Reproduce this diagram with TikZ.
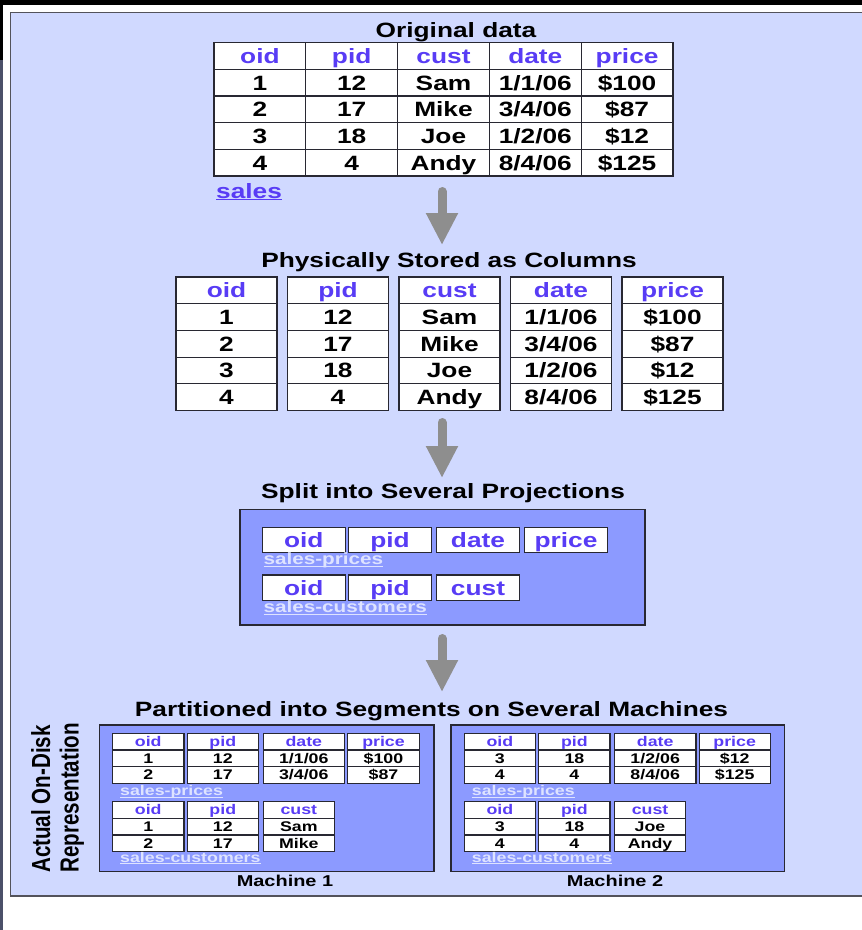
\documentclass[tikz,border=0pt]{standalone}
\usepackage{fontspec}
\usepackage{graphicx}
\setmainfont{Liberation Sans}[FakeStretch=1.27]
\newfontfamily\rotfont{Liberation Sans}
\usetikzlibrary{arrows.meta}

\definecolor{panelfill}{RGB}{208,217,255}
\definecolor{boxfill}{RGB}{140,154,255}
\definecolor{hdrblue}{RGB}{88,60,245}
\definecolor{labelwhite}{RGB}{222,227,255}
\definecolor{arrowgray}{RGB}{142,142,142}
\definecolor{edge}{RGB}{40,40,50}
\definecolor{strip}{RGB}{75,80,105}

% bold text at a given size (in pt)
\newcommand\fsz[1]{\fontsize{#1pt}{#1pt}\selectfont\bfseries}
% text with a rule drawn just under the baseline
\newcommand\ulabel[1]{\setbox0\hbox{#1}\rlap{\rule[-2.3pt]{\wd0}{1.1pt}}\box0}

\tikzset{
  tabfont/.style={font=\fsz{20.7}, text height=15pt, text depth=0pt},
  hcell/.style={draw=edge, line width=1.2pt, fill=white, inner sep=0pt, text=hdrblue, tabfont},
  dcell/.style={draw=edge, line width=1.2pt, fill=white, inner sep=0pt, text=black, tabfont},
  heading/.style={font=\fsz{20.7}, text=black, inner sep=0pt, anchor=base},
  segbox/.style={draw=edge, line width=1.3pt, fill=boxfill},
  projlabel/.style={font=\fsz{16.3}, text=labelwhite, inner sep=0pt, anchor=base west},
  bigarrow/.style={draw=arrowgray, line width=9pt, line cap=round,
    -{Triangle[width=30pt,length=32pt]}},
}

% one column: name, left x, top y, width, row height, header, values
\newcommand\colcells[7]{%
  \node[hcell, minimum width=#4pt, minimum height=#5pt] (#1-0) at ({#2+#4/2},{#3+#5/2}) {#6};
  \foreach \v [count=\i] in {#7}{%
    \node[dcell, minimum width=#4pt, minimum height=#5pt] (#1-\i) at ({#2+#4/2},{#3+#5*(\i+0.5)}) {\v};
  }%
}

\begin{document}
\begin{tikzpicture}[x=1pt,y=-1pt]
\useasboundingbox (0,0) rectangle (862,930);

% frame
\fill[white] (0,0) rectangle (862,930);
\fill[strip] (0,0) rectangle (2.5,930);
\fill[black] (0,0) rectangle (862,5);
\fill[black] (0,0) rectangle (3,60);
\draw[draw=edge!80, line width=1.5pt, fill=panelfill] (10.5,12.5) rectangle (870,896);

% ---------- original table ----------
\node[heading] (title-orig) at (456,37) {Original data};
\colcells{orig-oid}{214}{42.5}{91.8}{26.7}{oid}{1,2,3,4}
\colcells{orig-pid}{305.8}{42.5}{91.8}{26.7}{pid}{12,17,18,4}
\colcells{orig-cust}{397.6}{42.5}{91.8}{26.7}{cust}{Sam,Mike,Joe,Andy}
\colcells{orig-date}{489.4}{42.5}{91.8}{26.7}{date}{1/1/06,3/4/06,1/2/06,8/4/06}
\colcells{orig-price}{581.2}{42.5}{91.8}{26.7}{price}{\$100,\$87,\$12,\$125}
\node[font=\fsz{20.7}, text=hdrblue, inner sep=0pt, anchor=base west] (sales) at (216,198) {\ulabel{sales}};

\coordinate (a1s) at (442,191.5);
\coordinate (a1e) at (442,245);
\draw[bigarrow] (a1s) -- (a1e);

% ---------- column store ----------
\node[heading] (title-cols) at (449,267) {Physically Stored as Columns};
\colcells{col-oid}{176}{277}{101}{26.7}{oid}{1,2,3,4}
\colcells{col-pid}{287.5}{277}{101}{26.7}{pid}{12,17,18,4}
\colcells{col-cust}{399}{277}{101}{26.7}{cust}{Sam,Mike,Joe,Andy}
\colcells{col-date}{510.5}{277}{101}{26.7}{date}{1/1/06,3/4/06,1/2/06,8/4/06}
\colcells{col-price}{622}{277}{101}{26.7}{price}{\$100,\$87,\$12,\$125}

\coordinate (a2s) at (442,422.5);
\coordinate (a2e) at (442,478);
\draw[bigarrow] (a2s) -- (a2e);

% ---------- projections ----------
\node[heading] (title-proj) at (443,498) {Split into Several Projections};
\draw[segbox] (240,509.3) rectangle (645,625);
\node[hcell, minimum width=83pt, minimum height=25.4pt] (p1-oid) at (303.8,540) {oid};
\node[hcell, minimum width=83pt, minimum height=25.4pt] (p1-pid) at (390,540) {pid};
\node[hcell, minimum width=83pt, minimum height=25.4pt] (p1-date) at (478,540) {date};
\node[hcell, minimum width=83pt, minimum height=25.4pt] (p1-price) at (566,540) {price};
\node[projlabel] (p1-name) at (263.3,564.5) {\ulabel{sales-prices}};
\node[hcell, minimum width=83pt, minimum height=25.4pt] (p2-oid) at (303.8,587.7) {oid};
\node[hcell, minimum width=83pt, minimum height=25.4pt] (p2-pid) at (390,587.7) {pid};
\node[hcell, minimum width=83pt, minimum height=25.4pt] (p2-cust) at (478,587.7) {cust};
\node[projlabel] (p2-name) at (263.3,612.5) {\ulabel{sales-customers}};

\coordinate (a3s) at (442,638.5);
\coordinate (a3e) at (442,692);
\draw[bigarrow] (a3s) -- (a3e);

% ---------- segments on machines ----------
\node[heading] (title-seg) at (431.5,716.5) {Partitioned into Segments on Several Machines};

\node[rotate=90, anchor=base west, inner sep=0pt] (disk1) at (50,873)
  {\scalebox{1}[1.27]{\rotfont\fsz{20.6}Actual On-Disk}};
\node[rotate=90, anchor=base west, inner sep=0pt] (disk2) at (78.5,873)
  {\scalebox{1}[1.27]{\rotfont\fsz{20.6}Representation}};

\begin{scope}[tabfont/.style={font=\fsz{14}, text height=10pt, text depth=0pt},
              projlabel/.style={font=\fsz{14}, text=labelwhite, inner sep=0pt, anchor=base west}]
  % machine 1
  \draw[segbox] (99.3,725) rectangle (434,871.7);
  \colcells{m1p-oid}{112.6}{733.3}{71.3}{16.6}{oid}{1,2}
  \colcells{m1p-pid}{187.3}{733.3}{71}{16.6}{pid}{12,17}
  \colcells{m1p-date}{263.3}{733.3}{81}{16.6}{date}{1/1/06,3/4/06}
  \colcells{m1p-price}{347.7}{733.3}{71.6}{16.6}{price}{\$100,\$87}
  \node[projlabel] (m1-pname) at (120,795.5) {\ulabel{sales-prices}};
  \colcells{m1c-oid}{112.6}{801.6}{71.3}{16.7}{oid}{1,2}
  \colcells{m1c-pid}{187.3}{801.6}{71}{16.7}{pid}{12,17}
  \colcells{m1c-cust}{263.3}{801.6}{71}{16.7}{cust}{Sam,Mike}
  \node[projlabel] (m1-cname) at (120,862) {\ulabel{sales-customers}};
  \node[font=\fsz{15.7}, inner sep=0pt, anchor=base] (m1-label) at (285,886.7) {Machine 1};

  % machine 2
  \draw[segbox] (451,725) rectangle (784.3,871.7);
  \colcells{m2p-oid}{464.2}{733.3}{71.3}{16.6}{oid}{3,4}
  \colcells{m2p-pid}{538.8}{733.3}{71.2}{16.6}{pid}{18,4}
  \colcells{m2p-date}{614.4}{733.3}{81.6}{16.6}{date}{1/2/06,8/4/06}
  \colcells{m2p-price}{699.3}{733.3}{70.8}{16.6}{price}{\$12,\$125}
  \node[projlabel] (m2-pname) at (471.7,795.5) {\ulabel{sales-prices}};
  \colcells{m2c-oid}{464.2}{801.6}{71.3}{16.7}{oid}{3,4}
  \colcells{m2c-pid}{538.8}{801.6}{71.2}{16.7}{pid}{18,4}
  \colcells{m2c-cust}{614.4}{801.6}{71.3}{16.7}{cust}{Joe,Andy}
  \node[projlabel] (m2-cname) at (471.7,862) {\ulabel{sales-customers}};
  \node[font=\fsz{15.7}, inner sep=0pt, anchor=base] (m2-label) at (615,886.7) {Machine 2};
\end{scope}

\end{tikzpicture}
\end{document}
